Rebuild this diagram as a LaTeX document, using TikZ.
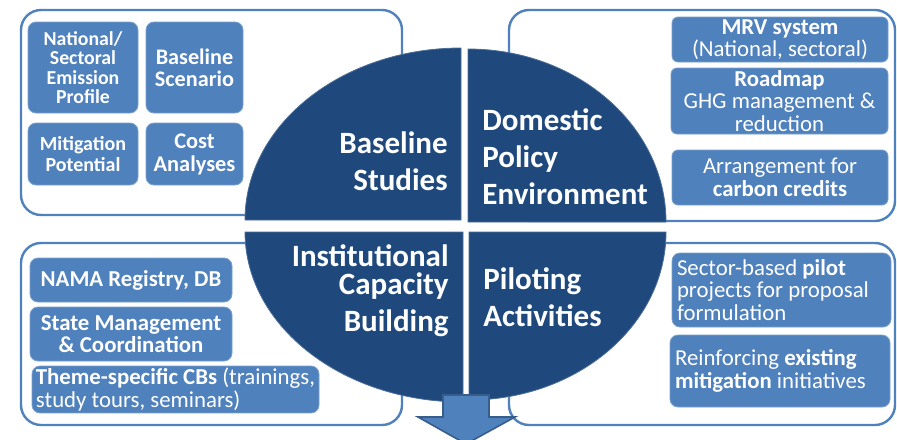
\documentclass[tikz,border=0pt]{standalone}
\usepackage{fontspec}
\setmainfont{Carlito}
\definecolor{quadblue}{HTML}{1F497D}
\definecolor{boxblue}{HTML}{4F81BD}
\definecolor{arrowedge}{HTML}{385D8A}

\begin{document}
\begin{tikzpicture}[x=0.5pt, y=-0.5pt,
    panel/.style = {draw=boxblue, line width=1.2pt, fill=white, rounded corners=10pt},
    quad/.style = {fill=quadblue, draw=quadblue!80!white, line width=0.4pt},
    title/.style = {text=white, inner sep=0pt, font=\fontsize{15.5}{18.5}\selectfont\bfseries},
    item/.style = {fill=boxblue, draw=boxblue!75!white, line width=0.4pt, rounded corners=4pt, text=white, align=center, inner sep=1pt, font=\fontsize{11.4}{11.3}\selectfont},
    bolditem/.style = {item, font=\fontsize{11.4}{11.3}\selectfont\bfseries}]
    \useasboundingbox (0,0) rectangle (897,439);

    % four panels behind the circle
    \draw[panel] (21,10) rectangle (402,215);
    \draw[panel] (509,10) rectangle (895,221);
    \draw[panel] (21,243) rectangle (402,425);
    \draw[panel] (509,243) rectangle (895,425);

    % the four quarters
    \fill[quad] (461,220) -- (245,220) arc[start angle=180, end angle=270, x radius=216, y radius=172] -- cycle;
    \fill[quad] (468,222) -- (468,49) arc[start angle=270, end angle=360, x radius=198, y radius=173] -- cycle;
    \fill[quad] (463,232) -- (463,402) arc[start angle=90, end angle=180, x radius=218, y radius=170] -- cycle;
    \fill[quad] (469,232) -- (666,232) arc[start angle=0, end angle=90, x radius=197, y radius=168] -- cycle;

    \node[title, anchor=east, align=right] (base) at (448,161) {Baseline\\Studies};
    \node[title, anchor=west, align=left] (policy) at (482,157) {Domestic\\Policy\\Environment};
    \node[title, anchor=east, align=right] (inst) at (449,291) {Institutional\\[-4.5pt]Capacity\\Building};
    \node[title, anchor=west, align=left] (pilot) at (483,297) {Piloting\\Activities};

    % baseline studies
    \node[bolditem, minimum width=55pt, minimum height=45.5pt, font=\fontsize{9.9}{9.75}\selectfont\bfseries] (profile) at (83,67.5) {National/\\Sectoral\\Emission\\Profile};
    \node[bolditem, minimum width=48.5pt, minimum height=45.5pt, font=\fontsize{11.1}{11}\selectfont\bfseries] (scenario) at (194.5,67.5) {Baseline\\Scenario};
    \node[bolditem, minimum width=55pt, minimum height=31pt, font=\fontsize{10}{10.5}\selectfont\bfseries] (mitig) at (83,154) {Mitigation\\Potential};
    \node[bolditem, minimum width=48.5pt, minimum height=31pt, font=\fontsize{11.2}{11.5}\selectfont\bfseries] (cost) at (194.5,154) {Cost\\Analyses};

    % domestic policy
    \node[item, minimum width=108pt, minimum height=22.5pt, rounded corners=3pt] (mrv) at (780,39.5) {\textbf{MRV system}\\(National, sectoral)};
    \node[item, minimum width=108.5pt, minimum height=33pt, rounded corners=3pt] (roadmap) at (779.5,101) {\textbf{Roadmap}\\GHG management \&\\reduction};
    \node[item, minimum width=108pt, minimum height=27.5pt, rounded corners=3pt] (credits) at (780,177.5) {Arrangement for\\\textbf{carbon credits}};

    % capacity building
    \node[bolditem, minimum width=101pt, minimum height=22pt] (registry) at (131,280) {NAMA Registry, DB};
    \node[bolditem, minimum width=101pt, minimum height=27pt] (state) at (131,334) {State Management\\\& Coordination};
    \node[item, minimum width=143.5pt, minimum height=22.5pt, align=left] (theme) at (175.5,389.5) {\textbf{Theme-specific CBs} (trainings,\\study tours, seminars)};

    % piloting
    \node[item, text width=104.5pt, inner xsep=2.5pt, minimum height=37pt, align=flush left] (sector) at (781.5,290) {Sector-based \textbf{pilot}\\projects for proposal\\formulation};
    \node[item, text width=105pt, inner xsep=2.5pt, minimum height=36pt, align=flush left] (reinf) at (780,371) {Reinforcing \textbf{existing}\\\textbf{mitigation} initiatives};

    \filldraw[fill=boxblue, draw=arrowedge, line width=0.8pt] (443,395) -- (489,395) -- (489,417) -- (515,417) -- (466,444) -- (418,417) -- (443,417) -- cycle;
\end{tikzpicture}
\end{document}
